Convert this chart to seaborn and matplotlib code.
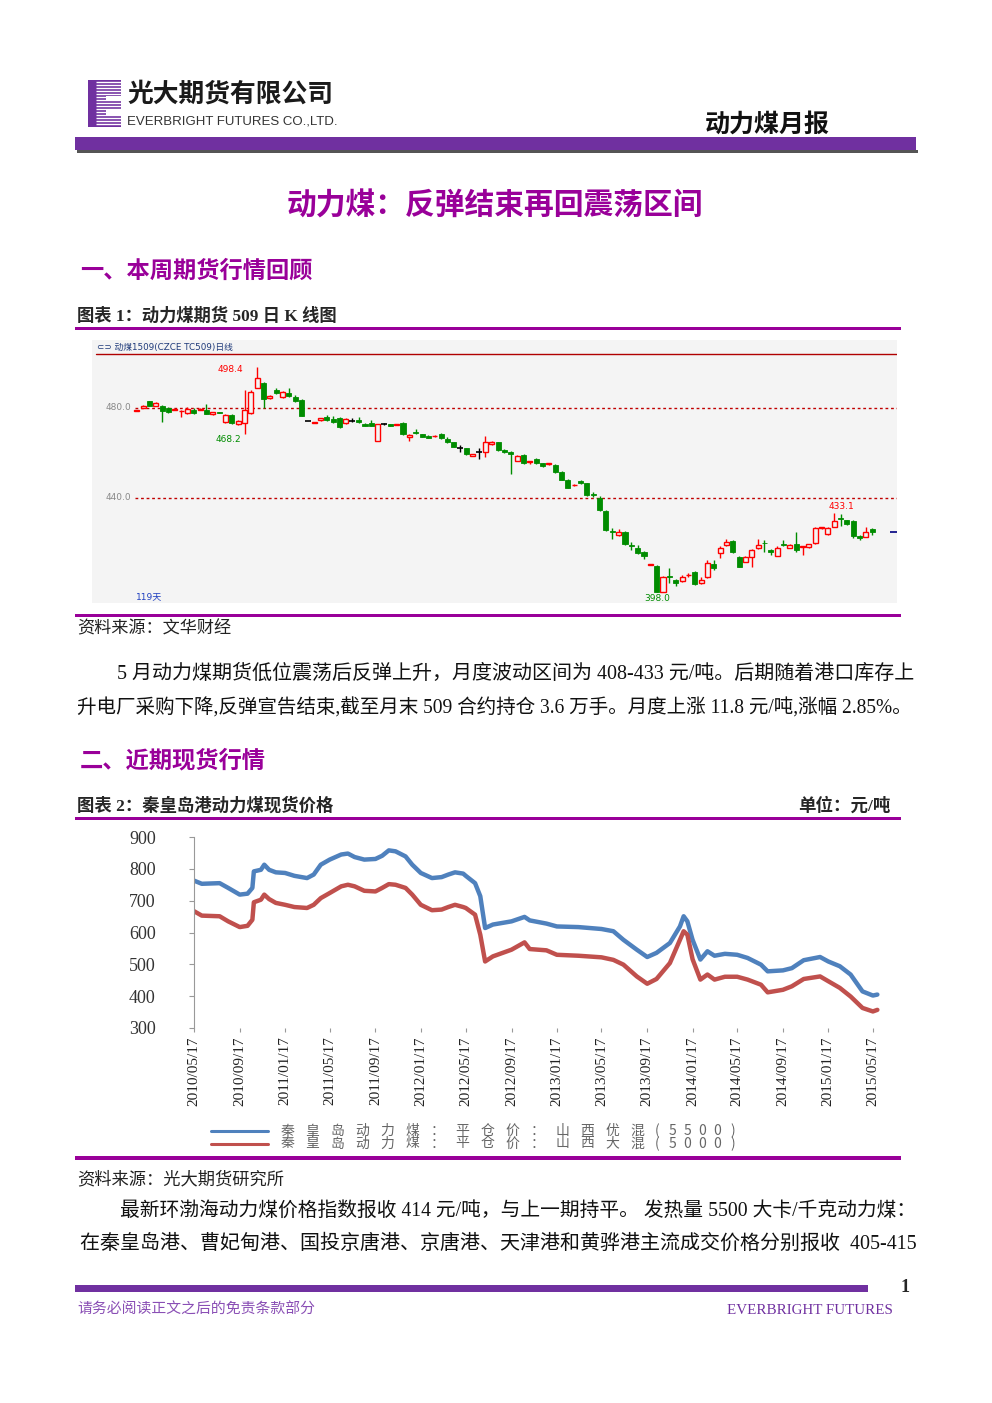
import numpy as np
import pandas as pd
import matplotlib
matplotlib.use("Agg")
import matplotlib.pyplot as plt
from matplotlib.patches import Rectangle
import seaborn as sns

W, H = 992, 1403

# 动煤1509 日K线 (open / high / low / close)
k_open = [478.6, 479.9, 483.1, 481.0, 481.0, 479.9, 479.1, 478.5, 477.6, 479.1,
          479.3, 479.0, 477.2, 478.2, 473.6, 476.9, 472.7, 473.3, 477.6, 489.0,
          491.0, 484.3, 488.0, 485.0, 486.5, 485.0, 483.6, 474.2, 473.4, 474.5,
          476.1, 475.1, 475.4, 473.2, 474.2, 474.7, 472.7, 473.5, 465.3, 473.0,
          472.7, 472.5, 473.2, 467.3, 469.2, 468.3, 467.6, 467.4, 468.3, 466.2,
          464.7, 462.1, 462.1, 458.7, 460.5, 460.6, 463.9, 464.7, 461.3, 460.6,
          456.4, 459.1, 455.9, 457.3, 455.4, 455.1, 454.7, 451.7, 448.0, 445.6,
          447.6, 446.5, 441.8, 439.9, 434.2, 425.1, 423.6, 425.0, 419.0, 417.9,
          415.9, 410.4, 409.9, 398.4, 405.1, 403.6, 403.1, 405.6, 407.3, 402.1,
          405.0, 410.5, 415.4, 419.1, 420.9, 413.9, 411.7, 413.9, 417.6, 420.0,
          416.9, 414.4, 419.5, 417.9, 419.4, 418.2, 418.4, 419.9, 426.6, 423.9,
          427.3, 431.0, 430.0, 429.8, 423.3, 422.8, 426.0]
k_high = [479.0, 481.3, 483.3, 482.5, 481.5, 480.5, 479.6, 479.2, 480.2, 479.8,
          480.0, 481.8, 478.4, 478.3, 477.2, 477.1, 474.5, 488.0, 488.0, 498.4,
          491.5, 485.8, 488.7, 487.6, 488.7, 485.6, 483.9, 474.3, 473.9, 475.6,
          477.0, 476.6, 475.8, 475.5, 475.4, 475.8, 473.2, 474.6, 473.0, 473.5,
          473.0, 473.0, 473.6, 468.3, 470.8, 468.6, 467.8, 467.9, 469.0, 467.2,
          465.0, 463.6, 462.4, 459.6, 462.1, 467.6, 465.3, 465.0, 461.6, 461.0,
          459.0, 459.4, 456.6, 457.8, 455.6, 455.6, 455.0, 452.0, 448.3, 446.1,
          447.9, 446.8, 442.8, 440.8, 434.5, 426.6, 426.0, 425.3, 420.5, 419.0,
          416.2, 410.8, 410.2, 405.3, 408.7, 404.0, 405.6, 406.8, 407.6, 404.8,
          412.6, 412.6, 418.8, 421.8, 421.2, 414.2, 414.2, 417.2, 421.8, 421.3,
          417.2, 418.8, 421.3, 419.4, 424.7, 418.8, 419.7, 427.1, 427.1, 427.1,
          433.1, 433.0, 430.3, 430.1, 423.6, 427.3, 426.6]
k_low = [478.5, 479.8, 480.9, 480.8, 473.9, 477.6, 478.9, 476.1, 477.2, 477.4,
         479.0, 477.2, 477.0, 477.7, 473.4, 473.0, 472.5, 468.2, 477.2, 488.7,
         479.9, 484.0, 486.2, 484.5, 485.0, 482.8, 476.3, 474.1, 473.2, 474.3,
         474.4, 473.5, 471.2, 472.8, 473.9, 473.3, 471.8, 471.8, 465.1, 472.4,
         471.9, 472.3, 468.0, 465.3, 468.3, 467.0, 466.6, 467.2, 466.2, 464.4,
         462.6, 460.6, 459.1, 458.5, 457.3, 458.4, 463.6, 460.9, 460.0, 450.5,
         456.2, 455.1, 455.2, 455.0, 453.8, 454.8, 451.1, 447.8, 444.4, 445.4,
         446.3, 441.0, 440.3, 434.4, 425.5, 421.8, 423.3, 419.1, 417.0, 415.0,
         412.7, 410.3, 398.0, 398.2, 402.1, 401.0, 402.6, 405.0, 401.2, 401.6,
         404.5, 407.8, 413.5, 418.8, 415.6, 409.2, 411.4, 409.5, 417.3, 415.8,
         414.8, 414.0, 418.5, 417.6, 416.0, 414.5, 417.9, 419.6, 426.4, 423.6,
         427.0, 427.5, 428.0, 422.4, 421.2, 422.5, 423.5]
k_close = [478.8, 481.0, 481.0, 482.1, 478.7, 478.1, 479.4, 478.8, 479.6, 477.6,
           479.7, 477.5, 478.1, 477.9, 476.9, 473.2, 474.2, 479.1, 487.0, 493.5,
           483.9, 485.3, 486.5, 487.3, 485.3, 483.1, 476.6, 474.2, 473.7, 475.4,
           474.7, 473.9, 471.7, 475.1, 474.2, 473.6, 472.0, 472.0, 472.7, 473.0,
           472.1, 472.8, 468.3, 468.0, 468.9, 467.3, 466.8, 467.7, 466.5, 464.7,
           462.8, 462.1, 459.4, 459.4, 460.5, 465.0, 464.7, 461.3, 460.3, 459.4,
           458.8, 455.4, 456.3, 455.4, 454.4, 455.4, 451.4, 448.0, 444.6, 445.9,
           446.5, 441.3, 441.5, 434.7, 425.8, 424.9, 425.0, 419.4, 418.8, 415.4,
           414.4, 410.6, 398.1, 405.0, 404.9, 402.1, 405.0, 405.9, 401.6, 403.6,
           411.0, 409.0, 417.6, 420.6, 415.9, 409.5, 413.9, 416.9, 419.1, 419.8,
           415.9, 417.6, 419.2, 419.1, 416.9, 418.5, 419.4, 426.8, 426.9, 426.8,
           429.9, 430.8, 428.3, 423.3, 422.1, 424.7, 425.0]
k_marks = {19: "498.4", 17: "468.2", 110: "433.1", 82: "398.0"}

# 秦皇岛港动力煤现货价格 (元/吨)
spot_dates = ["2010-05-17", "2010-06-07", "2010-07-25", "2010-08-17", "2010-09-17",
              "2010-10-08", "2010-10-21", "2010-10-25", "2010-11-13", "2010-11-22",
              "2010-12-05", "2010-12-23", "2011-01-17", "2011-02-11", "2011-03-17",
              "2011-04-04", "2011-04-23", "2011-05-17", "2011-06-17", "2011-07-05",
              "2011-07-23", "2011-08-18", "2011-09-17", "2011-10-05", "2011-10-23",
              "2011-11-10", "2011-12-07", "2011-12-25", "2012-01-17", "2012-02-16",
              "2012-03-13", "2012-03-31", "2012-04-18", "2012-05-10", "2012-05-17",
              "2012-06-11", "2012-06-25", "2012-07-08", "2012-07-29", "2012-09-17",
              "2012-10-22", "2012-11-05", "2012-12-20", "2013-01-17", "2013-03-16",
              "2013-05-17", "2013-06-18", "2013-07-15", "2013-08-20", "2013-09-17",
              "2013-10-12", "2013-11-17", "2013-12-14", "2013-12-24", "2014-01-03",
              "2014-01-17", "2014-02-07", "2014-02-26", "2014-03-17", "2014-04-14",
              "2014-05-17", "2014-06-14", "2014-07-20", "2014-08-07", "2014-09-17",
              "2014-10-11", "2014-11-12", "2014-12-26", "2015-01-17", "2015-02-17",
              "2015-03-18", "2015-04-19", "2015-05-17", "2015-05-29"]
spot_5500 = [763, 753, 755, 740, 719, 722, 740, 792, 797, 813,
             797, 789, 787, 778, 771, 782, 813, 829, 845, 848,
             837, 829, 831, 841, 858, 855, 839, 813, 787, 771,
             774, 782, 789, 785, 778, 755, 714, 614, 625, 635,
             649, 638, 628, 619, 617, 611, 604, 577, 546, 523,
             536, 567, 619, 651, 635, 577, 515, 541, 527, 533,
             530, 520, 499, 478, 481, 488, 513, 523, 509, 494,
             468, 415, 402, 405]
spot_5000 = [667, 653, 651, 635, 617, 621, 640, 695, 703, 719,
             705, 693, 687, 680, 677, 687, 708, 724, 745, 750,
             745, 731, 729, 740, 752, 750, 740, 719, 687, 670,
             672, 680, 687, 680, 677, 656, 593, 509, 525, 546,
             569, 548, 544, 530, 527, 522, 514, 499, 462, 439,
             454, 504, 577, 604, 593, 516, 452, 468, 452, 461,
             461, 452, 436, 412, 420, 431, 454, 462, 447, 426,
             399, 363, 352, 357]
spot_names = ["秦皇岛动力煤：平仓价：山西优混(5500)", "秦皇岛动力煤：平仓价：山西大混(5000)"]
tick_dates = ["2010/05/17", "2010/09/17", "2011/01/17", "2011/05/17", "2011/09/17",
              "2012/01/17", "2012/05/17", "2012/09/17", "2013/01/17", "2013/05/17",
              "2013/09/17", "2014/01/17", "2014/05/17", "2014/09/17", "2015/01/17",
              "2015/05/17"]

PURPLE = "#7030A0"
MAGENTA = "#990099"
RED = "#FF0000"
GREEN = "#008C00"
KBG = "#F4F4F4"
line_colors = ["#4F81BD", "#C0504D"]
CJK = ["Noto Sans CJK SC", "DejaVu Sans"]
MIX = ["Liberation Serif", "Noto Sans CJK SC"]

sns.set_style("white")
plt.rcParams["font.family"] = ["Liberation Serif", "Noto Sans CJK SC", "DejaVu Sans"]

fig = plt.figure(figsize=(W / 100, H / 100), dpi=100)
renderer = fig.canvas.get_renderer()


def rect(x0, y0, x1, y1):
    return [x0 / W, 1 - y1 / H, (x1 - x0) / W, (y1 - y0) / H]


page = fig.add_axes([0, 0, 1, 1])
page.set_xlim(0, W)
page.set_ylim(H, 0)
page.axis("off")


def put(x0, y, s, x1=None, size=12, **kw):
    t = page.text(x0, y, s, fontsize=size, va="center", **kw)
    if x1 is not None:
        w = t.get_window_extent(renderer).width
        t.set_fontsize(size * (x1 - x0) / w)
    return t


def spread(x0, x1, y, s, size, **kw):
    # wide-spaced legend text like the original
    wts = [0.6 if ord(c) < 128 else 1.0 for c in s]
    step = (x1 - x0) / sum(wts)
    x = x0
    for c, wt in zip(s, wts):
        page.text(x + step * wt / 2, y, c, fontsize=size, ha="center", va="center", **kw)
        x += step * wt


def band(x0, y0, x1, y1, color):
    page.add_patch(Rectangle((x0, y0), x1 - x0, y1 - y0, color=color, lw=0))


# ---- header ----
band(88, 80, 121, 127, PURPLE)
for yy in np.arange(82, 127, 3.0):
    page.hlines(yy, 96, 121, colors="white", lw=1.0)
band(106, 96, 122, 101, "white")
band(106, 110, 122, 115, "white")
put(127, 94, "光大期货有限公司", x1=333, family=CJK, weight="bold", color="#1a1a1a")
put(127, 122, "EVERBRIGHT FUTURES CO.,LTD.", x1=338, family="Liberation Sans", color="#333333")
put(705, 124, "动力煤月报", x1=830, family=CJK, weight="bold", color="#111111")
band(77, 150, 918, 153, "#555555")
band(75, 137, 916, 150, PURPLE)

put(287, 206, "动力煤：反弹结束再回震荡区间", x1=703, family=CJK, weight="bold", color=MAGENTA)
put(80, 271, "一、本周期货行情回顾", x1=312, family=CJK, weight="bold", color=MAGENTA)
put(77, 316, "图表 1：动力煤期货 509 日 K 线图", x1=336, family=MIX, weight="bold")
band(75, 327, 901, 330, MAGENTA)
band(75, 614, 901, 617, MAGENTA)
put(77, 628, "资料来源：文华财经", x1=231, family=CJK, color="#222222")
put(117, 674, "5 月动力煤期货低位震荡后反弹上升，月度波动区间为 408-433 元/吨。后期随着港口库存上",
    x1=913, family=MIX, color="#111111")
put(77, 708, "升电厂采购下降,反弹宣告结束,截至月末 509 合约持仓 3.6 万手。月度上涨 11.8 元/吨,涨幅 2.85%。",
    x1=913, family=MIX, color="#111111")
put(80, 760, "二、近期现货行情", x1=266, family=CJK, weight="bold", color=MAGENTA)
put(77, 806, "图表 2：秦皇岛港动力煤现货价格", x1=332, family=MIX, weight="bold")
put(798, 806, "单位：元/吨", x1=890, family=MIX, weight="bold")
band(75, 817, 901, 820, MAGENTA)

# legend of chart 2
for i, (name, col) in enumerate(zip(spot_names, line_colors)):
    yy = 1131 + 12.5 * i
    page.plot([211, 268], [yy, yy], color=col, lw=2.2)
    spread(275, 740, yy, name, 10, family=CJK, color="#666666", weight="light")
band(75, 1156, 901, 1160, MAGENTA)

put(77, 1179, "资料来源：光大期货研究所", x1=284, family=CJK, color="#222222")
put(120, 1211, "最新环渤海动力煤价格指数报收 414 元/吨，与上一期持平。 发热量 5500 大卡/千克动力煤：",
    x1=913, family=MIX, color="#111111")
put(80, 1244, "在秦皇岛港、曹妃甸港、国投京唐港、京唐港、天津港和黄骅港主流成交价格分别报收  405-415",
    x1=915, family=MIX, color="#111111")

band(75, 1285, 868, 1292, PURPLE)
page.text(905, 1287, "1", fontsize=13, ha="center", va="center", family="Liberation Serif", weight="bold")
put(77, 1310, "请务必阅读正文之后的免责条款部分", x1=314, family=CJK, color="#8A4FB5")
put(727, 1310, "EVERBRIGHT FUTURES", x1=891, family="Liberation Serif", color=PURPLE)

# ---- chart 1: K line ----
ax1 = fig.add_axes(rect(92, 340, 897, 603))
ax1.set_facecolor(KBG)
for s in ax1.spines.values():
    s.set_visible(False)
ax1.set_xticks([])
ax1.set_yticks([])

k = pd.DataFrame({"open": k_open, "high": k_high, "low": k_low, "close": k_close})
k["idx"] = np.arange(len(k))
up = k["close"] > k["open"]
down = k["close"] < k["open"]
flat = k["close"] == k["open"]
kcol = np.where(up, RED, np.where(down, GREEN, "black"))
body = (k["close"] - k["open"]).abs().clip(lower=0.3)
low_end = k[["open", "close"]].min(axis=1)

ax1.vlines(k["idx"], k["low"], k["high"], colors=kcol, lw=1, zorder=2)
ax1.bar(k["idx"][up], body[up], bottom=low_end[up], width=0.8,
        facecolor=KBG, edgecolor=RED, lw=1, zorder=3)
ax1.bar(k["idx"][down], body[down], bottom=low_end[down], width=0.8,
        color=GREEN, edgecolor=GREEN, lw=0.6, zorder=3)
ax1.hlines(k["close"][flat], k["idx"][flat] - 0.45, k["idx"][flat] + 0.45,
           colors="black", lw=1.2, zorder=3)

ax1.set_xlim(-7.05, 119.9)
ax1.set_ylim(393.3, 510.2)
for lvl in (480, 440):
    ax1.hlines(lvl, -0.3, 119.9, colors="#C00000", linestyles=(0, (2, 2)), lw=1, zorder=1)
    ax1.text(-0.8, lvl, f"{lvl:.1f}", ha="right", va="center", fontsize=6.5,
             color="#888888", family="DejaVu Sans")
ax1.axhline(504.0, xmin=0.005, xmax=1, color="#B00000", lw=1)
ax1.text(0.006, 0.973, "⊂⊃ 动煤1509(CZCE TC509)日线", transform=ax1.transAxes,
         fontsize=6.3, color="#1F3A7A", va="center", family=["DejaVu Sans", "Noto Sans CJK SC"])
ax1.text(0.055, 0.023, "119天", transform=ax1.transAxes, fontsize=6.5, color="#2040C0",
         va="center", family=["DejaVu Sans", "Noto Sans CJK SC"])
offs = {19: (-14, -3, "right"), 17: (-3, -5, "right"), 110: (7, 7, "center"), 82: (1, -6, "center")}
for i, lab in k_marks.items():
    dx, dy, ha = offs[i]
    yv = k_high[i] if lab == f"{k_high[i]:.1f}" else k_low[i]
    ax1.annotate(lab, xy=(i, yv), xytext=(dx, dy), textcoords="offset pixels",
                 ha=ha, va="center", fontsize=6.5, family="DejaVu Sans",
                 color=RED if yv == k_high[i] else GREEN)
ax1.hlines(k_close[-1], 118.8, 119.9, colors="#000080", lw=1.2)

# ---- chart 2: spot prices ----
spot = pd.DataFrame({"date": pd.to_datetime(spot_dates),
                     spot_names[0]: spot_5500, spot_names[1]: spot_5000})
spot_long = spot.melt("date", var_name="series", value_name="price")

ax2 = fig.add_axes(rect(194, 837, 890, 1028))
ax2.patch.set_alpha(0)
sns.lineplot(data=spot_long, x="date", y="price", hue="series", hue_order=spot_names,
             palette=line_colors, linewidth=3.2, legend=False, ax=ax2)
ax2.set_ylim(300, 900)
ax2.set_xlim(pd.Timestamp("2010-05-17"), pd.Timestamp("2015-07-02"))
ax2.set_yticks(range(300, 901, 100))
ax2.set_xticks(pd.to_datetime(tick_dates))
ax2.set_xticklabels(tick_dates, rotation=90)
ax2.set_xlabel("")
ax2.set_ylabel("")
sns.despine(ax=ax2, bottom=True)
ax2.spines["left"].set_color("#999999")
ax2.tick_params(axis="y", left=True, length=3.6, color="#999999", pad=24, labelsize=13,
                labelcolor="#333333")
ax2.tick_params(axis="x", bottom=True, length=3, color="#999999", pad=3, labelsize=11,
                labelcolor="#222222")
for lab in ax2.get_xticklabels() + ax2.get_yticklabels():
    lab.set_fontfamily("Liberation Serif")

fig.savefig("out.png", dpi=100)
